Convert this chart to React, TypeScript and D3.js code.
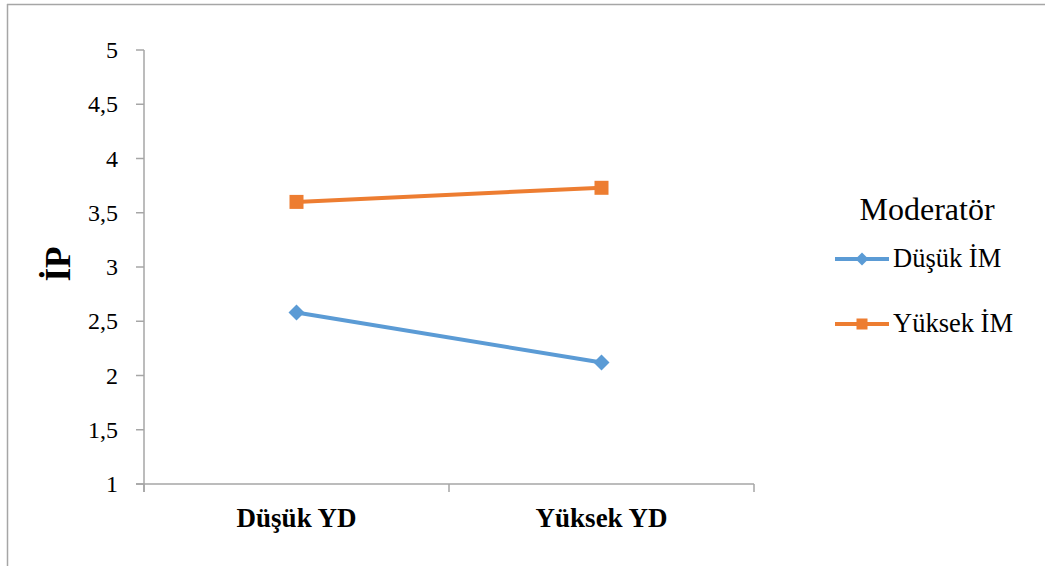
import React from "react";
import * as d3 from "d3";

const categories = ["Düşük YD", "Yüksek YD"];
const seriesNames = ["Düşük İM", "Yüksek İM"];
const dusukIM = [2.58, 2.12];
const yuksekIM = [3.6, 3.73];
const yTicks = [1, 1.5, 2, 2.5, 3, 3.5, 4, 4.5, 5];
const yTitle = "İP";
const legendTitle = "Moderatör";

const W = 1045;
const H = 566;
const SERIF = "Liberation Serif, Times New Roman, Tinos, serif";
const serifStyle = { fontFamily: SERIF };

export default function App() {
  const x0 = 144, x1 = 754;
  const y = d3.scaleLinear().domain([1, 5]).range([484, 50]);
  const x = d3.scaleBand().domain(categories).range([x0, x1]);
  const cx = (c: string) => (x(c) ?? 0) + x.bandwidth() / 2;
  const line = d3.line<[number, number]>().x(d => d[0]).y(d => d[1]);
  const series = [
    { name: seriesNames[0], values: dusukIM, color: "#5B9BD5", marker: "diamond" },
    { name: seriesNames[1], values: yuksekIM, color: "#ED7D31", marker: "square" },
  ];
  const marker = (m: string, px: number, py: number, color: string, s: number) =>
    m === "square" ? (
      <rect x={px - s / 2} y={py - s / 2} width={s} height={s} fill={color} />
    ) : (
      <path
        d={`M${px},${py - s / 2 - 1}L${px + s / 2 + 1},${py}L${px},${py + s / 2 + 1}L${px - s / 2 - 1},${py}Z`}
        fill={color}
      />
    );
  const xTicks = [x0, ...categories.map(c => (x(c) ?? 0) + x.bandwidth())];
  return (
    <svg width={W} height={H} style={{ position: "absolute", left: 0, top: 0 }}>
      <rect x={0} y={0} width={W} height={H} fill="#fff" />
      <line x1={7.5} y1={4} x2={7.5} y2={H} stroke="#a6a6a6" strokeWidth={1.5} />
      <line x1={7} y1={4.5} x2={W} y2={4.5} stroke="#a6a6a6" strokeWidth={1.5} />
      {/* y axis */}
      <line x1={x0} y1={y(5)} x2={x0} y2={y(1) + 8} stroke="#a6a6a6" strokeWidth={1.5} />
      {yTicks.map(t => (
        <g key={t}>
          <line x1={x0 - 8} x2={x0} y1={y(t)} y2={y(t)} stroke="#a6a6a6" strokeWidth={1.5} />
          <text
            x={118}
            y={y(t) + 8}
            textAnchor="end"
            style={serifStyle}
            fontSize={24}
            fill="#000"
          >
            {String(t).replace(".", ",")}
          </text>
        </g>
      ))}
      {/* x axis */}
      <line x1={x0 - 8} y1={y(1)} x2={x1} y2={y(1)} stroke="#a6a6a6" strokeWidth={1.5} />
      {xTicks.map((t, i) => (
        <line key={i} x1={t} x2={t} y1={y(1)} y2={y(1) + 8} stroke="#a6a6a6" strokeWidth={1.5} />
      ))}
      {categories.map(c => (
        <text
          key={c}
          x={cx(c)}
          y={527}
          textAnchor="middle"
          style={serifStyle}
          fontWeight="bold"
          fontSize={27}
          fill="#000"
        >
          {c}
        </text>
      ))}
      <text
        transform={`translate(70,264) rotate(-90)`}
        textAnchor="middle"
        style={serifStyle}
        fontWeight="bold"
        fontSize={35}
        fill="#000"
      >
        {yTitle}
      </text>
      {/* series */}
      {series.map(s => {
        const pts: [number, number][] = s.values.map((v, i) => [cx(categories[i]), y(v)]);
        return (
          <g key={s.name}>
            <path d={line(pts) ?? ""} fill="none" stroke={s.color} strokeWidth={4} />
            {pts.map((p, i) => (
              <g key={i}>{marker(s.marker, p[0], p[1], s.color, 14)}</g>
            ))}
          </g>
        );
      })}
      {/* legend */}
      <text x={927} y={220} textAnchor="middle" style={serifStyle} fontSize={32} fill="#000">
        {legendTitle}
      </text>
      {series.map((s, i) => {
        const ly = 259 + i * 65;
        return (
          <g key={s.name}>
            <line x1={835} x2={889} y1={ly} y2={ly} stroke={s.color} strokeWidth={4} />
            {marker(s.marker, 862, ly, s.color, 11)}
            <text x={893} y={ly + 8} style={serifStyle} fontSize={26.5} fill="#000">
              {s.name}
            </text>
          </g>
        );
      })}
    </svg>
  );
}
